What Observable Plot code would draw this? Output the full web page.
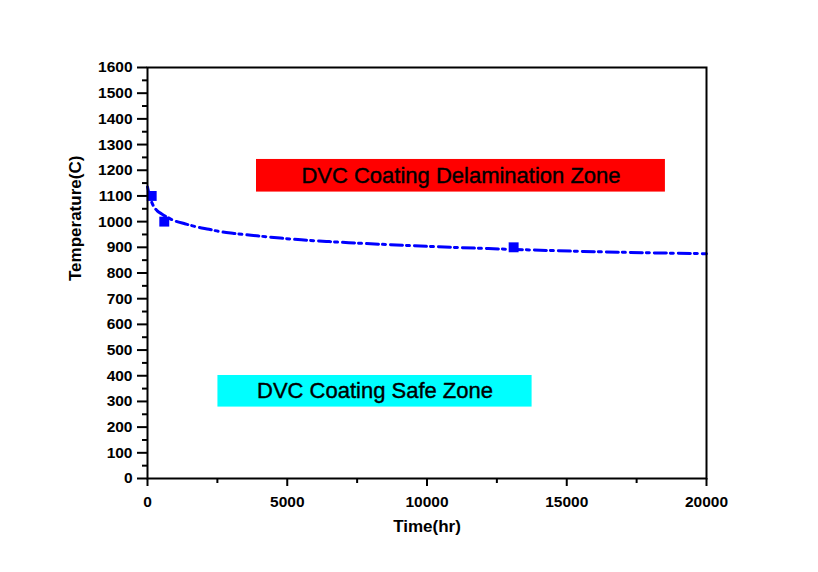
<!DOCTYPE html>
<html>
<head>
<meta charset="utf-8">
<script src="https://cdn.jsdelivr.net/npm/d3@7"></script>
<script src="https://cdn.jsdelivr.net/npm/@observablehq/plot@0.6"></script>
<style>
  html, body { margin: 0; padding: 0; background: #fff; }
  #chart svg { display: block; }
</style>
</head>
<body>
<div id="chart"></div>
<script>
// Measured points (Time hr, Temperature C)
const pointTime = [150, 600, 13100];
const pointTemp = [1100, 1000, 900];

// Fitted curve
const curveTime = [0, 60, 180, 350, 510, 950, 1360, 1780, 2200, 2600, 3100, 3900, 4750, 5500, 6400, 7200, 8900, 10400, 12200, 15600, 20000];
const curveTemp = [1135, 1105, 1068, 1042, 1030, 1004, 991, 979, 970, 961, 954, 945, 936, 929, 923, 918, 909, 902, 895, 884, 875];

// Zones
const zoneLabels = ["DVC Coating Delamination Zone", "DVC Coating Safe Zone"];
const zoneX1 = [3900, 2520];
const zoneX2 = [18530, 13760];
const zoneY1 = [1115, 278];
const zoneY2 = [1242, 401];
const zoneColors = ["#ff0000", "#00ffff"];

// Axis ticks
const xTicks = [0, 5000, 10000, 15000, 20000];
const xMinor = [2500, 7500, 12500, 17500];
const yTicks = d3.range(0, 1601, 100);
const yMinor = d3.range(50, 1600, 100);

const points = pointTime.map((t, i) => ({t, v: pointTemp[i]}));
const curve = curveTime.map((t, i) => ({t, v: curveTemp[i]}));
const zones = zoneLabels.map((label, i) => ({
  label, x1: zoneX1[i], x2: zoneX2[i], y1: zoneY1[i], y2: zoneY2[i], color: zoneColors[i]
}));

const fmt = d => String(d);

const chart = Plot.plot({
  width: 818,
  height: 572,
  marginLeft: 147,
  marginRight: 112,
  marginTop: 67,
  marginBottom: 94,
  style: {fontFamily: "'Liberation Sans', Arial, sans-serif", background: "#fff", color: "#000"},
  x: {domain: [0, 20000]},
  y: {domain: [0, 1600]},
  marks: [
    Plot.rect(zones, {x1: "x1", x2: "x2", y1: "y1", y2: "y2", fill: d => d.color}),
    Plot.text(zones, {x: d => (d.x1 + d.x2) / 2, y: d => (d.y1 + d.y2) / 2, text: "label", fontSize: 22, fill: "#000", stroke: "#000", strokeWidth: 0.4}),
    Plot.line(curve, {x: "t", y: "v", stroke: "#0000ff", strokeWidth: 3, strokeDasharray: "12,4,3,5", curve: "monotone-x"}),
    Plot.dot(points, {x: "t", y: "v", symbol: "square", r: 5.6, fill: "#0000ff", stroke: "none"}),
    Plot.axisX({ticks: xTicks, tickSize: 8, tickPadding: 9, tickFormat: fmt, strokeWidth: 2, fontSize: 15.5, fontWeight: "bold", label: null}),
    Plot.axisX({ticks: xMinor, tickSize: 5, text: null, strokeWidth: 2, label: null}),
    Plot.axisY({ticks: yTicks, tickSize: 10, tickPadding: 5, tickFormat: fmt, strokeWidth: 2, fontSize: 15.5, fontWeight: "bold", label: null}),
    Plot.axisY({ticks: yMinor, tickSize: 5, text: null, strokeWidth: 2, label: null}),
    Plot.frame({stroke: "#000", strokeWidth: 2}),
    Plot.text(["Time(hr)"], {frameAnchor: "bottom", dy: 53, text: d => d, fontSize: 17, fontWeight: "bold", fill: "#000"}),
    Plot.text(["Temperature(C)"], {frameAnchor: "left", dx: -72, dy: 8, rotate: -90, text: d => d, fontSize: 17, fontWeight: "bold", fill: "#000"})
  ]
});
document.getElementById("chart").appendChild(chart);
</script>
</body>
</html>
